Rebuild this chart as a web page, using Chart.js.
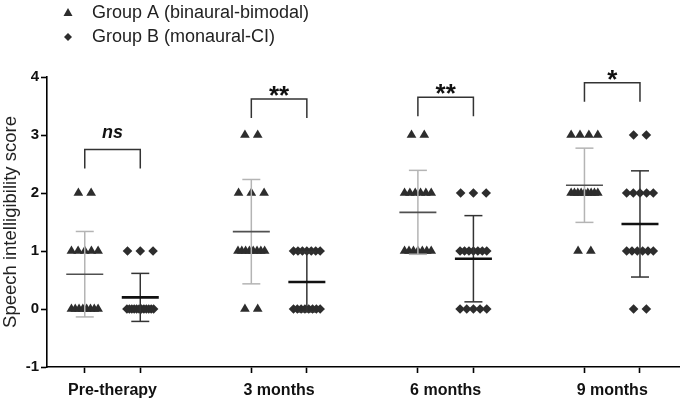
<!DOCTYPE html>
<html>
<head>
<meta charset="utf-8">
<script src="https://cdn.jsdelivr.net/npm/chart.js@4.4.0/dist/chart.umd.min.js"></script>
<style>
  html, body { margin: 0; padding: 0; background: #fff; }
  #wrap { width: 685px; height: 402px; }
</style>
</head>
<body>
<div id="wrap"><canvas id="speechChart" width="685" height="402"></canvas></div>
<script>
const categories = ["Pre-therapy", "3 months", "6 months", "9 months"];
const legendLabels = ["Group A (binaural-bimodal)", "Group B (monaural-CI)"];

// individual scores per time point, 15 children per group
const groupA = [
  [2, 2, 1, 1, 1, 1, 1, 0, 0, 0, 0, 0, 0, 0, 0],
  [3, 3, 2, 2, 2, 1, 1, 1, 1, 1, 1, 1, 1, 0, 0],
  [3, 3, 2, 2, 2, 2, 2, 2, 1, 1, 1, 1, 1, 1, 1],
  [3, 3, 3, 3, 2, 2, 2, 2, 2, 2, 2, 2, 2, 1, 1],
];
const groupB = [
  [1, 1, 1, 0, 0, 0, 0, 0, 0, 0, 0, 0, 0, 0, 0],
  [1, 1, 1, 1, 1, 1, 1, 0, 0, 0, 0, 0, 0, 0, 0],
  [2, 2, 2, 1, 1, 1, 1, 1, 1, 1, 0, 0, 0, 0, 0],
  [3, 3, 2, 2, 2, 2, 2, 1, 1, 1, 1, 1, 1, 0, 0],
];
const sigLabels = ["ns", "**", "**", "*"];
const sigLevel = [2.75, 3.62, 3.65, 3.9];
const yTicks = [-1, 0, 1, 2, 3, 4];

const posA = categories.map((c, i) => i * 3);
const posB = categories.map((c, i) => i * 3 + 1);

const markColor = "#2d2d2d";

// spread equal scores sideways like a column scatter
function spread(values, center) {
  const counts = {};
  values.forEach((v) => (counts[v] = (counts[v] || 0) + 1));
  const pts = [];
  Object.keys(counts).forEach((k) => {
    const n = counts[k];
    const step = n > 1 ? Math.min(0.23, 0.48 / (n - 1)) : 0;
    for (let i = 0; i < n; i++) {
      pts.push({ x: center + (i - (n - 1) / 2) * step, y: +k });
    }
  });
  return pts;
}

function meanSd(values) {
  const m = values.reduce((a, b) => a + b, 0) / values.length;
  const v = values.reduce((a, b) => a + (b - m) * (b - m), 0) / (values.length - 1);
  return [m, Math.sqrt(v)];
}

const pointsA = groupA.flatMap((vals, i) => spread(vals, posA[i]));
const pointsB = groupB.flatMap((vals, i) => spread(vals, posB[i]));

function line(ctx, x1, y1, x2, y2) {
  ctx.beginPath();
  ctx.moveTo(x1, y1);
  ctx.lineTo(x2, y2);
  ctx.stroke();
}

const extras = {
  id: "extras",
  afterDatasetsDraw(chart) {
    const ctx = chart.ctx;
    const xs = chart.scales.x;
    const ys = chart.scales.y;
    ctx.save();
    ctx.lineCap = "butt";

    // mean +/- SD
    const drawBars = (groups, pos, meanColor, meanWidth, sdColor) => {
      groups.forEach((vals, i) => {
        const [m, sd] = meanSd(vals);
        const cx = xs.getPixelForValue(pos[i]);
        const yTop = ys.getPixelForValue(m + sd);
        const yBot = ys.getPixelForValue(m - sd);
        const yM = ys.getPixelForValue(m);
        ctx.strokeStyle = sdColor;
        ctx.lineWidth = 1.5;
        line(ctx, cx, yTop, cx, yBot);
        line(ctx, cx - 9, yTop, cx + 9, yTop);
        line(ctx, cx - 9, yBot, cx + 9, yBot);
        ctx.strokeStyle = meanColor;
        ctx.lineWidth = meanWidth;
        line(ctx, cx - 18.5, yM, cx + 18.5, yM);
      });
    };
    drawBars(groupA, posA, "#505050", 1.6, "#b4b4b4");
    drawBars(groupB, posB, "#111111", 2.6, "#333333");

    // significance brackets
    categories.forEach((c, i) => {
      const x1 = xs.getPixelForValue(posA[i]);
      const x2 = xs.getPixelForValue(posB[i]);
      const yT = ys.getPixelForValue(sigLevel[i]);
      ctx.strokeStyle = "#333";
      ctx.lineWidth = 1.5;
      ctx.beginPath();
      ctx.moveTo(x1, yT + 19);
      ctx.lineTo(x1, yT);
      ctx.lineTo(x2, yT);
      ctx.lineTo(x2, yT + 19);
      ctx.stroke();
      ctx.fillStyle = "#111";
      ctx.textAlign = "center";
      ctx.textBaseline = "alphabetic";
      if (sigLabels[i] === "ns") {
        ctx.font = "italic bold 18px 'Liberation Sans', Arial, sans-serif";
        ctx.fillText(sigLabels[i], (x1 + x2) / 2, yT - 12);
      } else {
        ctx.font = "bold 26px 'Liberation Sans', Arial, sans-serif";
        ctx.fillText(sigLabels[i], (x1 + x2) / 2, yT + 5);
      }
    });
    ctx.restore();
  },
  afterDraw(chart) {
    const ctx = chart.ctx;
    ctx.save();
    ctx.fillStyle = markColor;
    // triangle
    ctx.beginPath();
    ctx.moveTo(68, 8);
    ctx.lineTo(72.5, 16);
    ctx.lineTo(63.5, 16);
    ctx.closePath();
    ctx.fill();
    // diamond
    ctx.beginPath();
    ctx.moveTo(68, 33);
    ctx.lineTo(72, 37);
    ctx.lineTo(68, 41);
    ctx.lineTo(64, 37);
    ctx.closePath();
    ctx.fill();
    ctx.fillStyle = "#222";
    ctx.font = "18px 'Liberation Sans', Arial, sans-serif";
    ctx.textAlign = "left";
    ctx.textBaseline = "middle";
    ctx.fillText(legendLabels[0], 92, 13);
    ctx.fillText(legendLabels[1], 92, 37);
    ctx.restore();
  },
};

const xTickVals = [];
categories.forEach((c, i) => xTickVals.push(posA[i], (posA[i] + posB[i]) / 2, posB[i]));
const isCenter = (v) => !posA.includes(v) && !posB.includes(v);

new Chart(document.getElementById("speechChart"), {
  type: "scatter",
  data: {
    datasets: [
      {
        label: legendLabels[0],
        data: pointsA,
        pointStyle: "triangle",
        pointRadius: 5.6,
        backgroundColor: markColor,
        borderColor: markColor,
        borderWidth: 0,
      },
      {
        label: legendLabels[1],
        data: pointsB,
        pointStyle: "rectRot",
        pointRadius: 4.8,
        backgroundColor: markColor,
        borderColor: markColor,
        borderWidth: 0,
      },
    ],
  },
  options: {
    responsive: false,
    animation: false,
    events: [],
    layout: { padding: { top: 77, left: 0, right: 0, bottom: 0 } },
    plugins: {
      legend: { display: false },
      tooltip: { enabled: false },
    },
    scales: {
      x: {
        type: "linear",
        min: -0.68,
        max: 10.71,
        afterBuildTicks: (axis) => {
          axis.ticks = xTickVals.map((v) => ({ value: v }));
        },
        afterFit: (axis) => {
          axis.height = 35;
        },
        border: { color: "#000", width: 1.6 },
        grid: {
          display: true,
          drawOnChartArea: false,
          tickLength: 6,
          tickWidth: 1.6,
          tickColor: (c) => (c.tick && isCenter(c.tick.value) ? "rgba(0,0,0,0)" : "#000"),
        },
        ticks: {
          autoSkip: false,
          maxRotation: 0,
          padding: 8,
          color: "#111",
          font: { family: "'Liberation Sans', Arial, sans-serif", size: 16, weight: "bold" },
          callback: (v) => (isCenter(v) ? categories[xTickVals.indexOf(v) / 3 | 0] : ""),
        },
      },
      y: {
        min: -1,
        max: 4,
        afterBuildTicks: (axis) => {
          axis.ticks = yTicks.map((v) => ({ value: v }));
        },
        afterFit: (axis) => {
          axis.width = 47;
        },
        border: { color: "#000", width: 1.6 },
        grid: {
          display: true,
          drawOnChartArea: false,
          tickLength: 6,
          tickWidth: 1.6,
          tickColor: "#000",
        },
        ticks: {
          padding: 2,
          color: "#111",
          font: { family: "'Liberation Sans', Arial, sans-serif", size: 15, weight: "bold" },
        },
        title: {
          display: true,
          text: "Speech intelligibility score",
          color: "#222",
          padding: { top: 0, bottom: 1 },
          font: { family: "'Liberation Sans', Arial, sans-serif", size: 18.5 },
        },
      },
    },
  },
  plugins: [extras],
});
</script>
</body>
</html>
